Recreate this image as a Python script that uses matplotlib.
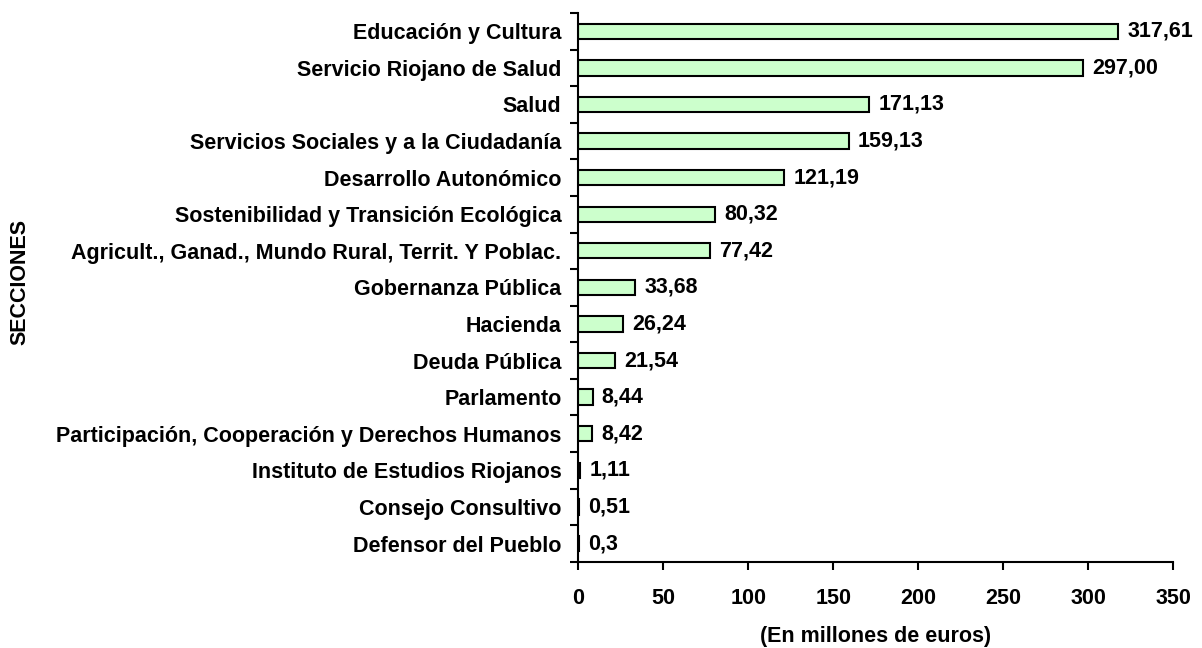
import numpy as np
import matplotlib
matplotlib.use("Agg")
import matplotlib.pyplot as plt
from matplotlib.ticker import FixedLocator

plt.rcParams['font.family'] = ['Liberation Sans', 'DejaVu Sans']
plt.rcParams['font.weight'] = 'bold'

# data, top to bottom
secciones = [
    "Educación y Cultura",
    "Servicio Riojano de Salud",
    "Salud",
    "Servicios Sociales y a la Ciudadanía",
    "Desarrollo Autonómico",
    "Sostenibilidad y Transición Ecológica",
    "Agricult., Ganad., Mundo Rural, Territ. Y Poblac.",
    "Gobernanza Pública",
    "Hacienda",
    "Deuda Pública",
    "Parlamento",
    "Participación, Cooperación y Derechos Humanos",
    "Instituto de Estudios Riojanos",
    "Consejo Consultivo",
    "Defensor del Pueblo",
]
importes = [317.61, 297.00, 171.13, 159.13, 121.19, 80.32, 77.42, 33.68,
            26.24, 21.54, 8.44, 8.42, 1.11, 0.51, 0.3]
etiquetas = ["317,61", "297,00", "171,13", "159,13", "121,19", "80,32",
             "77,42", "33,68", "26,24", "21,54", "8,44", "8,42", "1,11",
             "0,51", "0,3"]
xticks = [0, 50, 100, 150, 200, 250, 300, 350]

FS = 15.5

fig = plt.figure(figsize=(12.02, 6.48), dpi=100)
ax = fig.add_axes([0.481, 0.133, 0.495, 0.847])

n = len(secciones)
pos = np.arange(n)
ax.barh(pos, importes, height=0.42, color='#ccffcc', edgecolor='black',
        linewidth=1.5, zorder=2)

for p, v, lab in zip(pos, importes, etiquetas):
    ax.text(v + 5.5, p, lab, va='center', ha='left', fontsize=FS,
            fontweight='bold')

ax.set_ylim(n - 0.5, -0.5)
ax.set_xlim(0, 350)

# Excel style: tick marks between categories, labels centred
ax.yaxis.set_major_locator(FixedLocator(np.arange(-0.5, n, 1.0)))
ax.set_yticklabels([])
ax.yaxis.set_minor_locator(FixedLocator(pos))
ax.set_yticklabels(secciones, minor=True)
ax.tick_params(axis='y', which='major', length=6, width=1.5, direction='out')
ax.tick_params(axis='y', which='minor', length=0, pad=12, labelsize=FS)

ax.set_xticks(xticks)
ax.set_xticklabels([str(t) for t in xticks])
ax.tick_params(axis='x', length=6, width=1.5, direction='out', pad=13,
               labelsize=FS)

for s in ['top', 'right']:
    ax.spines[s].set_visible(False)
for s in ['left', 'bottom']:
    ax.spines[s].set_linewidth(1.5)

ax.set_xlabel('(En millones de euros)', fontsize=FS, fontweight='bold',
              labelpad=12)
fig.text(0.017, 0.565, 'SECCIONES', rotation=90, va='center', ha='center',
         fontsize=FS, fontweight='bold')

fig.savefig('out.png', dpi=100)
